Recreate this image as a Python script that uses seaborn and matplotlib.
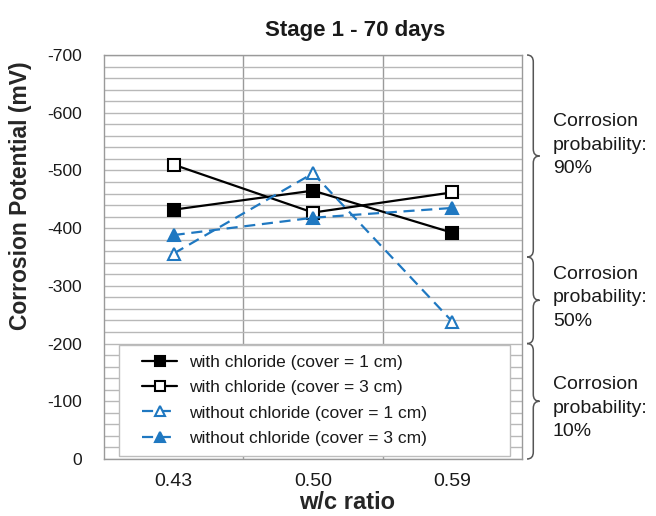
import numpy as np
import pandas as pd
import matplotlib
matplotlib.use("Agg")
import matplotlib.pyplot as plt
import matplotlib.transforms as mtransforms
from matplotlib.path import Path
from matplotlib.patches import PathPatch
from matplotlib.lines import Line2D
from matplotlib.legend_handler import HandlerLine2D
import seaborn as sns

# data (mV, negative potentials)
wc_ratio = ["0.43", "0.50", "0.59"]
cl_cover1 = [-432, -465, -392]
cl_cover3 = [-510, -427, -462]
nocl_cover1 = [-356, -495, -238]
nocl_cover3 = [-388, -418, -435]

series_names = [
    "with chloride (cover = 1 cm)",
    "with chloride (cover = 3 cm)",
    "without chloride (cover = 1 cm)",
    "without chloride (cover = 3 cm)",
]
# (top, bottom, text, text centre) of the probability bands
zones = [(-700, -350, "Corrosion\nprobability:\n90%", -544),
         (-350, -200, "Corrosion\nprobability:\n50%", -279),
         (-200, 0, "Corrosion\nprobability:\n10%", -88)]

sns.set_style("white")
plt.rcParams["font.family"] = ["Liberation Sans", "DejaVu Sans"]
plt.rcParams["axes.unicode_minus"] = False
plt.rcParams["text.color"] = "#1a1a1a"
plt.rcParams["xtick.color"] = "#1a1a1a"
plt.rcParams["ytick.color"] = "#1a1a1a"

blue = "#1f78c1"
styles = [
    dict(color="black", marker="s", mfc="black", mec="black", ls="-"),
    dict(color="black", marker="s", mfc="white", mec="black", ls="-"),
    dict(color=blue, marker="^", mfc="white", mec=blue, ls="--"),
    dict(color=blue, marker="^", mfc=blue, mec=blue, ls="--"),
]

df = pd.DataFrame({"wc": wc_ratio * 4,
                   "E": cl_cover1 + cl_cover3 + nocl_cover1 + nocl_cover3,
                   "series": np.repeat(series_names, 3)})

fig = plt.figure(figsize=(6.56, 5.16), dpi=100)
ax = fig.add_axes([104 / 656, 57 / 516, 418 / 656, 404 / 516])

for name, st in zip(series_names, styles):
    sub = df[df["series"] == name]
    sns.lineplot(data=sub, x="wc", y="E", ax=ax, label=name, sort=False,
                 color=st["color"], marker=st["marker"], markersize=8,
                 markerfacecolor=st["mfc"], markeredgecolor=st["mec"],
                 markeredgewidth=1.5, linewidth=1.6)

for ln in ax.get_lines()[2:]:
    ln.set_dashes((5, 3))

ax.set_ylim(0, -700)
ax.set_xlim(-0.5, 2.5)
ax.set_yticks(np.arange(0, -701, -100))
ax.set_yticklabels([str(v) for v in range(0, -701, -100)])
ax.set_yticks(np.arange(0, -701, -20), minor=True)
ax.set_xticks([0.5, 1.5], minor=True)
ax.grid(which="both", axis="y", color="#b8b8b8", lw=1.0)
ax.grid(which="minor", axis="x", color="#9a9a9a", lw=1.0)
ax.grid(which="major", axis="x", visible=False)
ax.set_axisbelow(True)

ax.tick_params(axis="y", which="major", length=5, color="#9a9a9a", labelsize=12.6, pad=11)
ax.tick_params(axis="y", which="minor", length=0)
ax.tick_params(axis="x", which="major", length=0, labelsize=14, pad=10)
ax.tick_params(axis="x", which="minor", length=4, color="#9a9a9a")

for sp in ax.spines.values():
    sp.set_color("#9a9a9a")
    sp.set_linewidth(1.0)

ax.set_xlabel("w/c ratio", fontsize=17, fontweight="bold")
ax.xaxis.set_label_coords(0.581, -0.08)
ax.set_ylabel("Corrosion Potential (mV)", fontsize=16.5, fontweight="bold")
ax.yaxis.set_label_coords(-0.172, 0.651)
ax.set_title("Stage 1 - 70 days", fontsize=16, fontweight="bold", x=0.6, pad=14)

leg = ax.legend(loc="lower left", bbox_to_anchor=(0.036, 0.007, 0.935, 0.3),
                mode="expand", fontsize=12.5,
                frameon=True, fancybox=False, edgecolor="#bdbdbd",
                handlelength=2.75, labelspacing=0.58, borderpad=0.6,
                borderaxespad=0.0, handletextpad=0.7,
                handler_map={Line2D: HandlerLine2D(xpad=0.75)})
leg.get_frame().set_alpha(1.0)
for h in leg.legend_handles:
    h.set_markersize(7)


def brace(ax, y_top, y_bot, x0=1.012, w=0.03):
    # curly brace opening to the left, drawn in axes-x / data-y coords
    tr = mtransforms.blended_transform_factory(ax.transAxes, ax.transData)
    xm = x0 + w * 0.5
    xt = x0 + w
    ym = (y_top + y_bot) / 2
    c = 12
    verts = [(x0, y_top), (xm, y_top), (xm, y_top + c),
             (xm, ym - c),
             (xm, ym), (xt, ym), (xt, ym),
             (xm, ym), (xm, ym + c),
             (xm, y_bot - c),
             (xm, y_bot), (x0, y_bot)]
    codes = [Path.MOVETO, Path.CURVE3, Path.CURVE3,
             Path.LINETO,
             Path.CURVE3, Path.CURVE3, Path.MOVETO,
             Path.CURVE3, Path.CURVE3,
             Path.LINETO,
             Path.CURVE3, Path.CURVE3]
    p = PathPatch(Path(verts, codes), transform=tr, fill=False,
                  edgecolor="#555555", lw=1.1, clip_on=False)
    ax.add_patch(p)
    return tr


for y_top, y_bot, txt, y_txt in zones:
    tr = brace(ax, y_top, y_bot)
    ax.text(1.074, y_txt, txt, transform=tr, fontsize=14, va="center", ha="left",
            linespacing=1.5, clip_on=False)

fig.savefig("out.png", dpi=100)
